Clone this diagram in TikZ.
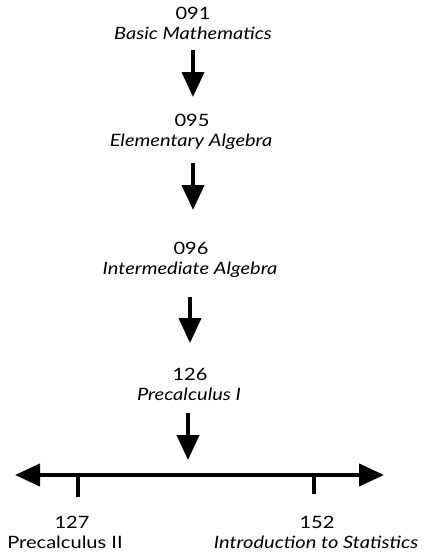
\documentclass[tikz,border=0pt]{standalone}
\usepackage{fontspec}
\setmainfont{Lato}[FakeStretch=1.18]
\usetikzlibrary{arrows.meta}
\begin{document}
\begin{tikzpicture}[x=1pt,y=-1pt,
  numtext/.style={font=\fontsize{17}{19}\selectfont, inner sep=0pt},
  titletext/.style={font=\fontsize{17}{19}\selectfont\itshape, inner sep=0pt},
  downarrow/.style={line width=4pt,-{Triangle[length=25pt,width=22pt]}},
  axisline/.style={line width=4pt,{Triangle[length=25pt,width=22pt]}-{Triangle[length=25pt,width=22pt]}},
  tickline/.style={line width=3.5pt}]
\useasboundingbox (0,0) rectangle (425,554);
\node[numtext] (n091) at (193,13) {091};
\node[titletext] (t091) at (193,33) {Basic Mathematics};
\node[numtext] (n095) at (192,120) {095};
\node[titletext] (t095) at (191,142) {Elementary Algebra};
\node[numtext] (n096) at (191,248) {096};
\node[titletext] (t096) at (190,270) {Intermediate Algebra};
\node[numtext] (n126) at (190,374) {126};
\node[titletext] (t126) at (189,394) {Precalculus I};
\coordinate (a1s) at (193,50); \coordinate (a1e) at (193,97);
\coordinate (a2s) at (193,163); \coordinate (a2e) at (193,210);
\coordinate (a3s) at (190,297); \coordinate (a3e) at (190,343);
\coordinate (a4s) at (188,413); \coordinate (a4e) at (188,460);
\draw[downarrow] (a1s) -- (a1e);
\draw[downarrow] (a2s) -- (a2e);
\draw[downarrow] (a3s) -- (a3e);
\draw[downarrow] (a4s) -- (a4e);
\coordinate (L) at (15,475); \coordinate (R) at (384,475);
\draw[axisline] (L) -- (R);
\coordinate (k1) at (78,475); \coordinate (k1b) at (78,497);
\coordinate (k2) at (314,475); \coordinate (k2b) at (314,494);
\draw[tickline] (k1) -- (k1b);
\draw[tickline] (k2) -- (k2b);
\node[numtext] (n127) at (72,522) {127};
\node[numtext] (t127) at (65,542) {Precalculus II};
\node[numtext] (n152) at (317,522) {152};
\node[titletext] (t152) at (316,542) {Introduction to Statistics};
\end{tikzpicture}
\end{document}
